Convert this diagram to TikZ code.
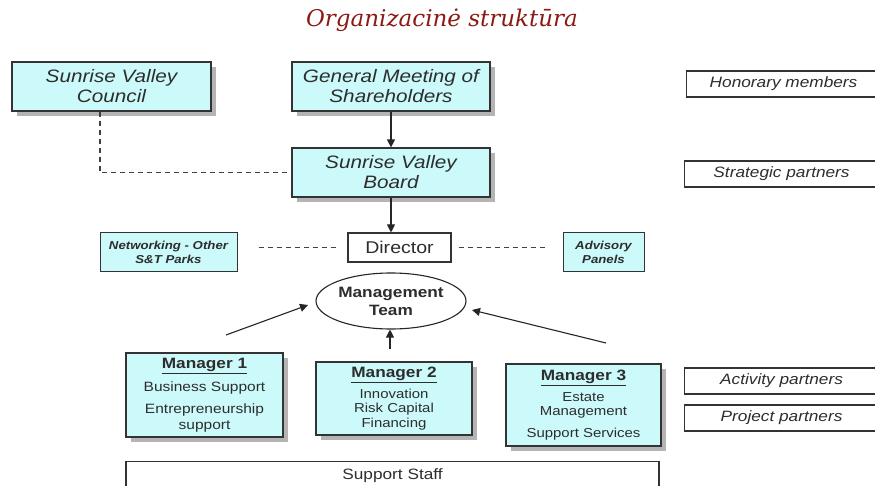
\documentclass[tikz,border=0pt]{standalone}
\usepackage{fontspec}
\setmainfont{Liberation Sans}
\newfontfamily\widesans[FakeStretch=1.15]{Liberation Sans}
\newfontfamily\titlefont{DejaVu Serif}
\usetikzlibrary{shapes.geometric,arrows.meta,shadows}
\definecolor{boxcyan}{RGB}{204,250,250}
\definecolor{titlered}{RGB}{140,26,20}
\definecolor{shadowgray}{RGB}{180,180,180}
\definecolor{txt}{RGB}{45,45,45}
\begin{document}
\begin{tikzpicture}[x=1pt,y=-1pt,
  cbox/.style={draw=black!80,line width=1.2pt,fill=boxcyan,align=center,inner sep=0pt,text=txt,
    drop shadow={shadow xshift=5pt,shadow yshift=-5pt,fill=shadowgray,opacity=1}},
  flatbox/.style={draw=black!80,line width=1pt,fill=boxcyan,align=center,inner sep=0pt,text=txt},
  wbox/.style={draw=black!80,line width=1.1pt,fill=white,align=center,inner sep=0pt,text=txt},
  bigital/.style={font=\widesans\fontsize{18}{20}\selectfont\itshape},
  smallital/.style={font=\widesans\fontsize{11.5}{14}\selectfont\itshape\bfseries},
  sideital/.style={font=\widesans\fontsize{15}{17}\selectfont\itshape},
  arr/.style={-{Triangle[length=8pt,width=8pt]},line width=1.1pt,draw=black!85},
  dashline/.style={dash pattern=on 5pt off 4pt,line width=1.1pt,draw=black!75}
]
\useasboundingbox (0,0) rectangle (875,486);
\fill[white] (0,0) rectangle (875,486);

\node[font=\titlefont\fontsize{23}{26}\selectfont\itshape,text=titlered] (title) at (442,20) {Organizacinė struktūra};

\node[cbox,bigital,minimum width=199pt,minimum height=49pt] (council) at (111.5,86.5) {Sunrise Valley\\Council};
\node[cbox,bigital,minimum width=198pt,minimum height=49pt] (gm) at (391,86.5) {General Meeting of\\Shareholders};
\node[cbox,bigital,minimum width=198pt,minimum height=49pt] (board) at (391,172.5) {Sunrise Valley\\Board};

\node[wbox,font=\widesans\fontsize{17}{19}\selectfont,minimum width=103pt,minimum height=29pt] (director) at (399.5,247.5) {Director};
\node[flatbox,smallital,minimum width=137pt,minimum height=39pt] (network) at (168.5,252.5) {Networking - Other\\S\&T Parks};
\node[flatbox,smallital,minimum width=81pt,minimum height=39pt] (advisory) at (603.5,252.5) {Advisory\\Panels};

\node[ellipse,draw=black!85,line width=1.1pt,fill=white,minimum width=150pt,minimum height=56pt,inner sep=0pt,align=center,font=\widesans\fontsize{15}{18}\selectfont\bfseries,text=txt] (team) at (391,301) {Management\\Team};

\node[cbox,font=\widesans\fontsize{13.5}{16}\selectfont,minimum width=157pt,minimum height=84pt] (m1) at (204.5,395)
  {{\fontsize{15}{17}\selectfont\bfseries\underline{Manager 1}}\\[7pt]Business Support\\[6pt]Entrepreneurship\\support};
\node[cbox,font=\widesans\fontsize{13}{14.5}\selectfont,minimum width=156pt,minimum height=73pt] (m2) at (394,398.5)
  {{\fontsize{15}{17}\selectfont\bfseries\underline{Manager 2}}\\[5pt]Innovation\\Risk Capital\\Financing};
\node[cbox,font=\widesans\fontsize{13}{14.5}\selectfont,minimum width=155pt,minimum height=82pt] (m3) at (583.5,405)
  {{\fontsize{15}{17}\selectfont\bfseries\underline{Manager 3}}\\[6pt]Estate\\Management\\[7pt]Support Services};

\node[wbox,font=\widesans\fontsize{15}{17}\selectfont,minimum width=533pt,minimum height=40pt,anchor=north,text depth=15pt] (staff) at (392.5,461) {Support Staff};

\node[wbox,sideital,minimum width=194pt,minimum height=26pt,anchor=west] (honorary) at (686,84) {Honorary members};
\node[wbox,sideital,minimum width=196pt,minimum height=26pt,anchor=west] (strategic) at (684,174) {\hspace*{-2pt}Strategic partners};
\node[wbox,sideital,minimum width=196pt,minimum height=26pt,anchor=west] (activity) at (684,381) {\hspace*{-2pt}Activity partners};
\node[wbox,sideital,minimum width=196pt,minimum height=26pt,anchor=west] (project) at (684,418) {\hspace*{-2pt}Project partners};

\draw[arr] (gm.south) -- (board.north);
\draw[arr] (board.south) -- (board.south |- director.north);
\draw[dashline] (council.south -| 100,0) |- (board.west);
\draw[dashline] ([xshift=21pt]network.east |- director.west) -- ([xshift=-11pt]director.west);
\draw[dashline] ([xshift=7pt]director.east) -- ([xshift=-17pt]advisory.west |- director.east);

\coordinate (a1) at (226,335);
\coordinate (a3) at (606,343);
\coordinate (a2) at (390,349);
\draw[arr] (a1) -- (308,305);
\draw[arr] (a3) -- (472,310);
\draw[arr] (a2) -- (team.south -| a2);
\end{tikzpicture}
\end{document}
